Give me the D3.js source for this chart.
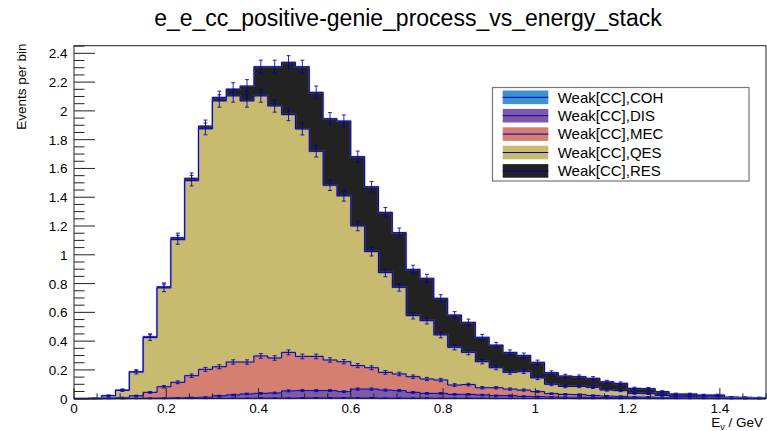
<!DOCTYPE html>
<html>
<head>
<meta charset="utf-8">
<script src="https://cdn.jsdelivr.net/npm/d3@7"></script>
<style>
  body { margin: 0; background: white; }
  svg { display: block; font-family: 'Liberation Sans', Arial, sans-serif; }
</style>
</head>
<body>
<script>
// 50 bins of 0.03 GeV from 0 to 1.5
const binLow = d3.range(50).map(i => +(i * 0.03).toFixed(2))

const coh = [0, 0, 0, 0.0005, 0.001, 0.001, 0.001, 0.002, 0.002, 0.002,
  0.003, 0.003, 0.003, 0.004, 0.004, 0.004, 0.005, 0.005, 0.005, 0.005,
  0.005, 0.005, 0.004, 0.004, 0.004, 0.004, 0.003, 0.003, 0.003, 0.003,
  0.002, 0.002, 0.002, 0.002, 0.002, 0.002, 0.001, 0.001, 0.001, 0.001,
  0.001, 0.001, 0.001, 0.001, 0.001, 0.001, 0.001, 0.0005, 0.0005, 0.0005]
const dis = [0, 0, 0.001, 0.0015, 0.002, 0.003, 0.004, 0.004, 0.006, 0.008,
  0.017, 0.023, 0.030, 0.033, 0.036, 0.050, 0.051, 0.051, 0.051, 0.044,
  0.062, 0.062, 0.056, 0.052, 0.040, 0.033, 0.034, 0.027, 0.027, 0.023,
  0.019, 0.019, 0.014, 0.012, 0.010, 0.008, 0.009, 0.008, 0.007, 0.006,
  0.005, 0.004, 0.003, 0.003, 0.002, 0.002, 0.001, 0.0015, 0.0005, 0.0005]
const mec = [0, 0.001, 0.004, 0.006, 0.017, 0.040, 0.078, 0.108, 0.152, 0.194,
  0.202, 0.229, 0.222, 0.260, 0.243, 0.268, 0.238, 0.238, 0.213, 0.208,
  0.163, 0.148, 0.123, 0.116, 0.109, 0.100, 0.093, 0.065, 0.068, 0.050,
  0.055, 0.046, 0.044, 0.035, 0.023, 0.020, 0.018, 0.013, 0.010, 0.009,
  0.006, 0.006, 0.004, 0.002, 0.002, 0.001, 0.002, 0, 0.001, 0]
const qes = [0, 0.002, 0.015, 0.050, 0.165, 0.381, 0.687, 0.991, 1.355, 1.671,
  1.847, 1.849, 1.814, 1.807, 1.751, 1.652, 1.580, 1.425, 1.214, 1.152,
  0.970, 0.807, 0.693, 0.602, 0.424, 0.405, 0.313, 0.262, 0.224, 0.181,
  0.139, 0.116, 0.128, 0.095, 0.065, 0.055, 0.057, 0.057, 0.042, 0.040,
  0.025, 0.024, 0.014, 0.010, 0.009, 0.007, 0.006, 0.004, 0.003, 0.003]
const res = [0, 0, 0.001, 0.002, 0.003, 0.006, 0.008, 0.014, 0.017, 0.020,
  0.025, 0.048, 0.104, 0.203, 0.273, 0.364, 0.433, 0.410, 0.463, 0.521,
  0.482, 0.451, 0.419, 0.380, 0.322, 0.295, 0.255, 0.225, 0.209, 0.170,
  0.158, 0.139, 0.113, 0.109, 0.081, 0.073, 0.068, 0.063, 0.058, 0.051,
  0.035, 0.035, 0.027, 0.017, 0.019, 0.015, 0.016, 0.006, 0.005, 0.004]

const processes = ['COH', 'DIS', 'MEC', 'QES', 'RES']
const labels = processes.map(p => 'Weak[CC],' + p)
const colors = ['#3b93d4', '#7f5aa6', '#d47f6f', '#c8ba6e', '#222222']
// per-entry event weight, errors are sqrt(sum w^2)
const eventWeight = 0.0009

const xMajor = [0, 0.2, 0.4, 0.6, 0.8, 1, 1.2, 1.4]
const yMajor = [0, 0.2, 0.4, 0.6, 0.8, 1, 1.2, 1.4, 1.6, 1.8, 2, 2.2, 2.4]

const W = 767, H = 431
const fLeft = 74, fRight = 766, fTop = 45.7, fBottom = 398.7
const lineBlue = '#0000a8'

const rows = binLow.map((lo, i) => ({ lo, COH: coh[i], DIS: dis[i], MEC: mec[i], QES: qes[i], RES: res[i] }))
const stacked = d3.stack().keys(processes)(rows)

const x = d3.scaleLinear().domain([0, 1.5]).range([fLeft, fRight])
const y = d3.scaleLinear().domain([0, 2.453]).range([fBottom, fTop])

const svg = d3.select('body')
  .append('svg')
  .attr('width', W)
  .attr('height', H)

svg.append('rect')
  .attr('width', W)
  .attr('height', H)
  .attr('fill', 'white')

svg.append('text')
  .attr('x', 408)
  .attr('y', 26)
  .attr('text-anchor', 'middle')
  .style('font-size', '23px')
  .text('e_e_cc_positive-genie_process_vs_energy_stack')

const plot = svg.append('g')

// steps need one extra point at the right edge
function stepPoints(layer) {
  const pts = layer.map(d => ({ x: d.data.lo, v: d[1] }))
  pts.push({ x: 1.5, v: layer[layer.length - 1][1] })
  return pts
}

const area = d3.area()
  .curve(d3.curveStepAfter)
  .x(d => x(d.x))
  .y0(y(0))
  .y1(d => y(d.v))

const line = d3.line()
  .curve(d3.curveStepAfter)
  .x(d => x(d.x))
  .y(d => y(d.v))

// draw like THStack: total first, then each lower cumulative on top
for (let k = stacked.length - 1; k >= 0; k--) {
  const layer = stacked[k]
  const pts = stepPoints(layer)
  const g = plot.append('g')

  g.append('path')
    .attr('d', area(pts))
    .attr('fill', colors[k])

  g.append('path')
    .attr('d', line(pts))
    .attr('fill', 'none')
    .attr('stroke', '#7a7ad8')
    .attr('stroke-opacity', 0.35)
    .attr('stroke-width', 2.2)

  g.append('path')
    .attr('d', line(pts))
    .attr('fill', 'none')
    .attr('stroke', lineBlue)
    .attr('stroke-width', 1)

  const errs = layer.filter(d => d[1] > 0)
  const bars = g.selectAll('g.err')
    .data(errs)
    .enter()
    .append('g')
    .attr('class', 'err')
    .attr('stroke', lineBlue)
    .attr('stroke-width', 1)
    .attr('stroke-opacity', 0.85)
  const cx = d => x(d.data.lo + 0.015)
  const e = d => Math.sqrt(eventWeight * d[1])

  bars.append('line')
    .attr('x1', cx).attr('x2', cx)
    .attr('y1', d => y(d[1] - e(d)))
    .attr('y2', d => y(d[1] + e(d)))
  bars.append('line')
    .attr('x1', d => cx(d) - 2).attr('x2', d => cx(d) + 2)
    .attr('y1', d => y(d[1] + e(d)))
    .attr('y2', d => y(d[1] + e(d)))
  bars.append('line')
    .attr('x1', d => cx(d) - 2).attr('x2', d => cx(d) + 2)
    .attr('y1', d => y(d[1] - e(d)))
    .attr('y2', d => y(d[1] - e(d)))
}

// frame
svg.append('rect')
  .attr('x', fLeft)
  .attr('y', fTop)
  .attr('width', fRight - fLeft)
  .attr('height', fBottom - fTop)
  .attr('fill', 'none')
  .attr('stroke', '#222')
  .attr('stroke-width', 1)

// axes ticks drawn inside the frame
const axes = svg.append('g').attr('stroke', '#222').attr('stroke-width', 1)
const xMinor = d3.range(0, 1.5001, 0.05)
const yMinor = d3.range(0, 2.4501, 0.05)

axes.selectAll('line.xt')
  .data(xMinor)
  .enter()
  .append('line')
  .attr('x1', d => x(d)).attr('x2', d => x(d))
  .attr('y1', fBottom)
  .attr('y2', d => fBottom - (xMajor.some(m => Math.abs(m - d) < 1e-6) ? 10.6 : 5.3))

axes.selectAll('line.yt')
  .data(yMinor)
  .enter()
  .append('line')
  .attr('y1', d => y(d)).attr('y2', d => y(d))
  .attr('x1', fLeft)
  .attr('x2', d => fLeft + (yMajor.some(m => Math.abs(m - d) < 1e-6) ? 21 : 10.5))

svg.append('g')
  .selectAll('text')
  .data(xMajor)
  .enter()
  .append('text')
  .attr('x', d => x(d))
  .attr('y', 413)
  .attr('text-anchor', 'middle')
  .style('font-size', '13.5px')
  .text(d => String(d))

svg.append('g')
  .selectAll('text')
  .data(yMajor)
  .enter()
  .append('text')
  .attr('x', 67.5)
  .attr('y', d => y(d) + 5)
  .attr('text-anchor', 'end')
  .style('font-size', '13.5px')
  .text(d => String(d))

svg.append('text')
  .attr('transform', 'translate(26, 43.5)rotate(-90)')
  .attr('text-anchor', 'end')
  .style('font-size', '13.5px')
  .text('Events per bin')

const xt = svg.append('text')
  .attr('x', 763)
  .attr('y', 426.5)
  .attr('text-anchor', 'end')
  .style('font-size', '13.5px')
xt.append('tspan').text('E')
xt.append('tspan').attr('dy', 3).style('font-size', '9px').text('ν')
xt.append('tspan').attr('dy', -3).text(' / GeV')

// legend
const legend = svg.append('g')
legend.append('rect')
  .attr('x', 492.5)
  .attr('y', 87.5)
  .attr('width', 256.5)
  .attr('height', 93.5)
  .attr('fill', 'white')
  .attr('stroke', '#777')
  .attr('stroke-width', 1.2)

const entries = legend.selectAll('g.entry')
  .data(labels)
  .enter()
  .append('g')
  .attr('transform', (d, i) => 'translate(0,' + (97.3 + i * 18.4) + ')')

entries.append('rect')
  .attr('x', 502.7)
  .attr('y', -6.8)
  .attr('width', 45.6)
  .attr('height', 13.6)
  .attr('fill', (d, i) => colors[i])
entries.append('line')
  .attr('x1', 502.7).attr('x2', 548.3)
  .attr('stroke', lineBlue)
  .attr('stroke-width', 1)
entries.append('text')
  .attr('x', 557.7)
  .attr('y', 5.3)
  .style('font-size', '15px')
  .text(d => d)
</script>
</body>
</html>
